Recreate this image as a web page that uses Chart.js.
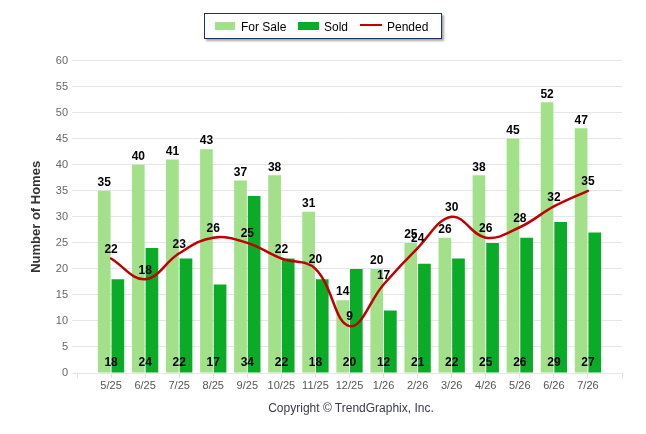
<!DOCTYPE html>
<html>
<head>
<meta charset="utf-8">
<script src="https://cdn.jsdelivr.net/npm/chart.js@4.4.1/dist/chart.umd.min.js"></script>
<style>
  body { margin: 0; background: #fff; font-family: "Liberation Sans", Arial, sans-serif; }
  #wrap { position: relative; width: 646px; height: 434px; }
  #chart { position: absolute; left: 0; top: 0; }
  .legend { position: absolute; left: 204px; top: 13px; width: 236px; height: 24px; border: 1px solid #1d3461; background: #fff; box-shadow: 2px 2px 2px rgba(0,0,0,0.35); }
  .sw { position: absolute; }
  .lt { position: absolute; font-size: 12px; line-height: 14px; color: #000; top: 19.5px; }
  .copy { position: absolute; left: 231px; width: 240px; top: 401px; text-align: center; font-size: 12px; line-height: 14px; color: #3a3a4a; }
</style>
</head>
<body>
<div id="wrap">
  <canvas id="chart" width="646" height="434"></canvas>
  <div class="legend"></div>
  <div class="sw" style="left:215px;top:22px;width:20px;height:8px;background:#a2e08a"></div>
  <span class="lt" style="left:241px">For Sale</span>
  <div class="sw" style="left:298px;top:22px;width:21px;height:8px;background:#0aab26"></div>
  <span class="lt" style="left:324px">Sold</span>
  <div class="sw" style="left:360px;top:24px;width:22px;height:2px;background:#c00000"></div>
  <span class="lt" style="left:387px">Pended</span>
  <div class="copy">Copyright © TrendGraphix, Inc.</div>
</div>
<script>
const months = ["5/25", "6/25", "7/25", "8/25", "9/25", "10/25", "11/25", "12/25", "1/26", "2/26", "3/26", "4/26", "5/26", "6/26", "7/26"];
const forSale = [35, 40, 41, 43, 37, 38, 31, 14, 20, 25, 26, 38, 45, 52, 47];
const sold = [18, 24, 22, 17, 34, 22, 18, 20, 12, 21, 22, 25, 26, 29, 27];
const pended = [22, 18, 23, 26, 25, 22, 20, 9, 17, 24, 30, 26, 28, 32, 35];

const toPoints = (arr) => arr.map((v, i) => ({ x: i, y: v }));

// draws the numbers above / inside the bars and above the line
const valueLabels = {
  id: "valueLabels",
  afterDatasetsDraw(chart) {
    const ctx = chart.ctx;
    const xs = chart.scales.x;
    ctx.save();
    ctx.font = 'bold 12px "Liberation Sans", Arial, sans-serif';
    ctx.fillStyle = "#000";
    ctx.textAlign = "center";
    ctx.textBaseline = "middle";
    chart.data.datasets.forEach((ds, di) => {
      const meta = chart.getDatasetMeta(di);
      meta.data.forEach((el, i) => {
        const v = ds.data[i].y;
        let x = el.x;
        let y = el.y - 9;
        if (ds.labelPos === "base") { x = xs.getPixelForValue(i); y = el.base - 9.5; }
        if (ds.labelPos === "top") y = el.y - 8;
        ctx.fillText(String(v), x, y);
      });
    });
    ctx.restore();
  },
};

new Chart(document.getElementById("chart"), {
  type: "bar",
  data: {
    datasets: [
      { label: "For Sale", data: toPoints(forSale), backgroundColor: "#a2e08a", order: 1, labelPos: "top",
        categoryPercentage: 0.8, barPercentage: 0.93 },
      { label: "Sold", data: toPoints(sold), backgroundColor: "#0aab26", order: 1, labelPos: "base",
        categoryPercentage: 0.8, barPercentage: 0.93 },
      { type: "line", label: "Pended", data: toPoints(pended), borderColor: "#c00000", borderWidth: 2.5,
        tension: 0.4, pointRadius: 0, borderCapStyle: "round", fill: false, order: 0, labelPos: "line" },
    ],
  },
  options: {
    responsive: false,
    animation: false,
    layout: { padding: { top: 60.7, right: 24, bottom: 37, left: 0 } },
    plugins: { legend: { display: false }, tooltip: { enabled: false } },
    scales: {
      x: {
        type: "linear",
        min: -1,
        max: 15,
        offset: false,
        afterBuildTicks: (scale) => { scale.ticks = [{ value: -1 }].concat(months.map((_, i) => ({ value: i })), [{ value: 15 }]); },
        afterFit: (scale) => { scale.height = 24; },
        grid: { drawOnChartArea: false, offset: false, tickLength: 5, color: "#e0e0e0" },
        border: { display: true, color: "#e6e6e6" },
        ticks: {
          autoSkip: false,
          maxRotation: 0,
          padding: 1,
          color: "#555",
          font: { size: 11 },
          callback: (v) => months[v] || "",
        },
      },
      y: {
        min: 0,
        max: 60,
        afterFit: (scale) => { scale.width = 77; },
        grid: { color: "#e6e6e6", tickLength: 5 },
        border: { display: false },
        ticks: { stepSize: 5, padding: 4, color: "#666", font: { size: 11 } },
        title: {
          display: true,
          text: "Number of Homes",
          color: "#333",
          font: { size: 13, weight: "bold" },
          padding: { top: 29, bottom: 0 },
        },
      },
    },
  },
  plugins: [valueLabels],
});
</script>
</body>
</html>
